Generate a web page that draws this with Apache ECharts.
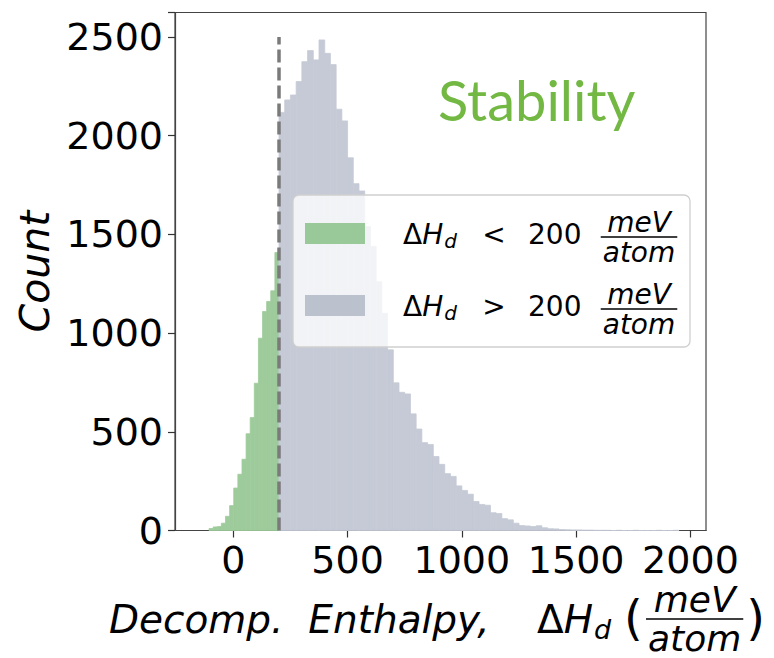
<!DOCTYPE html>
<html>
<head>
<meta charset="utf-8">
<script src="https://cdn.jsdelivr.net/npm/echarts@6/dist/echarts.min.js"></script>
<style>
html,body{margin:0;padding:0;background:#fff;}
#chart{width:774px;height:658px;}
</style>
</head>
<body>
<div id="chart"></div>
<script>
// ---------------- data ----------------
const greenBinStart = -106;   // meV/atom
const greenBinWidth = 18;
const greenCounts = [10, 18, 20, 37, 72, 126, 215, 285, 361, 490, 572, 746, 974, 1109, 1160, 1214, 1408];

const grayBinStart = 200;
const grayBinWidth = 25;
const grayCounts = [2118, 2181, 2206, 2274, 2375, 2431, 2384, 2485, 2417, 2360,
                    2134, 2075, 1888, 1757, 1720, 1540, 1440, 1260, 1100, 915,
                    748, 700, 692, 591, 514, 445, 436, 375, 335, 288,
                    274, 226, 203, 184, 147, 132, 128, 90, 86, 60,
                    54, 37, 25, 23, 20, 24, 14, 9, 8, 5,
                    4, 3, 3, 2, 2, 1, 1, 1, 0, 1,
                    0, 0, 1, 0, 0, 0, 1, 0, 0, 1];

const threshold = 200;
const thresholdTop = 2500;
const xTicks = [0, 500, 1000, 1500, 2000];
const yTicks = [0, 500, 1000, 1500, 2000, 2500];
const legendNames = ['ΔH_d < 200 meV/atom', 'ΔH_d > 200 meV/atom'];
const annotation = 'Stability';

// ---------------- build ----------------
function bins(start, width, counts) {
  return counts.map((c, i) => [start + i * width, start + (i + 1) * width, c]);
}
const greenData = bins(greenBinStart, greenBinWidth, greenCounts);
const grayData = bins(grayBinStart, grayBinWidth, grayCounts);

const GREEN = '#9ecb9b';
const GRAY = '#c5cad6';
const GREEN_PATCH = '#99c899';
const GRAY_PATCH = '#bbc2cd';

function histRender(color) {
  return function (params, api) {
    const p0 = api.coord([api.value(0), api.value(2)]);
    const p1 = api.coord([api.value(1), 0]);
    return {
      type: 'rect',
      shape: { x: p0[0], y: p0[1], width: p1[0] - p0[0], height: p1[1] - p0[1] },
      style: { fill: color, stroke: color, lineWidth: 0.8 }
    };
  };
}

const mctx = document.createElement('canvas').getContext('2d');
function tw(text, font) { mctx.font = font; return mctx.measureText(text).width; }

const FAM = '"DejaVu Sans"';
const graphics = [];

function addText(x, y, text, size, opts) {
  opts = opts || {};
  const font = (opts.italic ? 'italic ' : '') + size + 'px ' + (opts.family || FAM);
  graphics.push({
    type: 'text', x: x, y: y, z: 100, silent: true,
    style: {
      text: text,
      font: font,
      lineHeight: size,
      fill: opts.color || '#000',
      textAlign: opts.align || 'left',
      textVerticalAlign: 'middle'
    }
  });
  return tw(text, font);
}
function addFrac(cx, barY, num, den, size, numCy, denCy) {
  const w = Math.max(tw(num, 'italic ' + size + 'px ' + FAM), tw(den, 'italic ' + size + 'px ' + FAM)) + 4;
  addText(cx, numCy, num, size, { italic: true, align: 'center' });
  addText(cx, denCy, den, size, { italic: true, align: 'center' });
  graphics.push({
    type: 'line', z: 100, silent: true,
    shape: { x1: cx - w / 2, y1: barY, x2: cx + w / 2, y2: barY },
    style: { stroke: '#000', lineWidth: 1.6 }
  });
  return w;
}

// Legend box (drawn with graphic so that the stacked fraction can be shown)
graphics.push({
  type: 'rect', z: 90, silent: true,
  shape: { x: 293, y: 195, width: 397, height: 152, r: 6 },
  style: { fill: 'rgba(255,255,255,0.78)', stroke: '#d0d0d0', lineWidth: 1.3 }
});
graphics.push({ type: 'rect', z: 95, silent: true, shape: { x: 305, y: 223, width: 60, height: 21 }, style: { fill: GREEN_PATCH } });
graphics.push({ type: 'rect', z: 95, silent: true, shape: { x: 305, y: 295, width: 60, height: 21 }, style: { fill: GRAY_PATCH } });
[[234, 237, '<'], [306, 309, '>']].forEach(function (r) {
  const cy = r[0], bar = r[1];
  let x = 403;
  x += addText(x, cy, 'Δ', 28);
  x += addText(x, cy, 'H', 28, { italic: true });
  addText(x + 1, cy + 7, 'd', 20, { italic: true });
  addText(494, cy, r[2], 28, { align: 'center' });
  addText(528, cy, '200', 28);
  addFrac(639, bar, 'meV', 'atom', 28, bar - 15, bar + 15);
});

// Annotation
addText(438, 99, annotation, 56, { family: 'Lato', color: '#72b843' });

// X axis title (mathtext-like)
(function () {
  const cy = 619;
  addText(109, cy, 'Decomp.  Enthalpy,', 39, { italic: true });
  let x = 537;
  x += addText(x, cy, 'Δ', 39);
  x += addText(x, cy, 'H', 39, { italic: true });
  addText(x + 1, cy + 10, 'd', 27, { italic: true });
  addText(624, 618, '(', 48);
  const fw = tw('atom', 'italic 36px ' + FAM) + 6;
  const fx = 645;
  addFrac(fx + fw / 2, 619, 'meV', 'atom', 36, 599, 638);
  addText(fx + fw + 2, 618, ')', 48);
})();

const option = {
  animation: false,
  backgroundColor: '#ffffff',
  grid: { left: 175, top: 12.5, width: 531, height: 518, show: true, borderColor: '#444', borderWidth: 1.2, backgroundColor: 'transparent' },
  xAxis: {
    type: 'value', min: -255, max: 2068,
    axisLine: { show: true, onZero: false, lineStyle: { color: '#444', width: 1.2 } },
    axisTick: { show: true, customValues: xTicks, length: 7, lineStyle: { color: '#333', width: 1.2 } },
    axisLabel: { customValues: xTicks, margin: 10, color: '#000', fontSize: 38, fontFamily: 'DejaVu Sans',
      formatter: function (v) { return String(v); } },
    splitLine: { show: false }
  },
  yAxis: {
    type: 'value', min: 0, max: 2624, interval: 500,
    name: 'Count', nameLocation: 'middle', nameGap: 118, nameRotate: 90,
    nameTextStyle: { fontSize: 41, fontStyle: 'italic', fontFamily: 'DejaVu Sans', color: '#000' },
    axisLine: { show: true, onZero: false, lineStyle: { color: '#444', width: 1.2 } },
    axisTick: { show: true, length: 7, lineStyle: { color: '#333', width: 1.2 } },
    axisLabel: { margin: 12, color: '#000', fontSize: 38, fontFamily: 'DejaVu Sans',
      formatter: function (v) { return yTicks.indexOf(v) >= 0 ? String(v) : ''; } },
    splitLine: { show: false }
  },
  series: [
    { name: legendNames[0], type: 'custom', renderItem: histRender(GREEN), data: greenData, encode: { x: [0, 1], y: 2 }, z: 2, silent: true },
    { name: legendNames[1], type: 'custom', renderItem: histRender(GRAY), data: grayData, encode: { x: [0, 1], y: 2 }, z: 3, silent: true },
    { type: 'line', data: [[threshold, 0], [threshold, thresholdTop]], symbol: 'none', z: 5, silent: true,
      lineStyle: { color: '#7a7a7a', width: 3.5, type: [13, 5] } }
  ],
  graphic: graphics
};

const chart = echarts.init(document.getElementById('chart'), null, { renderer: 'svg' });
chart.setOption(option);
</script>
</body>
</html>
